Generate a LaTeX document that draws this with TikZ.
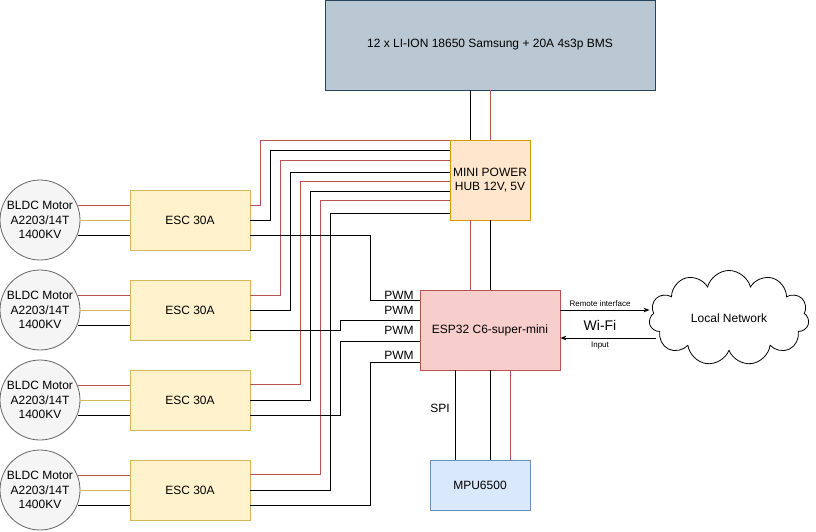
\documentclass[tikz,border=0pt]{standalone}
\usepackage{fontspec}
\setmainfont{Liberation Sans}
\usepackage{tikz}
\usetikzlibrary{positioning}
\usetikzlibrary{calc,shapes.symbols,arrows.meta}

\definecolor{battfill}{HTML}{BAC8D3}
\definecolor{battline}{HTML}{23445D}
\definecolor{hubfill}{HTML}{FFE6CC}
\definecolor{hubline}{HTML}{D79B00}
\definecolor{espfill}{HTML}{F8CECC}
\definecolor{espline}{HTML}{B85450}
\definecolor{mpufill}{HTML}{DAE8FC}
\definecolor{mpuline}{HTML}{6C8EBF}
\definecolor{escfill}{HTML}{FFF2CC}
\definecolor{escline}{HTML}{D6B656}
\definecolor{motfill}{HTML}{F5F5F5}
\definecolor{motline}{HTML}{666666}

\tikzset{
	box/.style={draw, rectangle, inner sep=2pt, align=center, font=\fontsize{12}{14}\selectfont},
	esc/.style={box, fill=escfill, draw=escline, minimum width=120pt, minimum height=60pt},
	motor/.style={draw=motline, fill=motfill, circle, minimum size=80pt, inner sep=0pt, align=center, font=\fontsize{12}{14.5}\selectfont},
	plus wire/.style={draw=espline},
	gnd wire/.style={draw=black},
	sig wire/.style={draw=escline},
	lab/.style={font=\fontsize{12}{14}\selectfont, inner sep=1pt},
	tiny/.style={font=\fontsize{8}{9}\selectfont, inner sep=1pt},
}

\begin{document}
\begin{tikzpicture}[x=1pt, y=-1pt, line width=0.8pt]
	\useasboundingbox (0,0) rectangle (816,531);
	
	% main blocks
	\node[box, fill=battfill, draw=battline, minimum width=330pt, minimum height=90pt] (batt) at (490,45) {12 x LI-ION 18650 Samsung + 20A 4s3p BMS};
	\node[box, fill=hubfill, draw=hubline, minimum width=80pt, minimum height=80pt] (hub) at (490,180) {MINI POWER\\HUB 12V, 5V};
	\node[box, fill=espfill, draw=espline, minimum width=140pt, minimum height=80pt] (esp) at (490,330) {ESP32 C6-super-mini};
	\node[box, fill=mpufill, draw=mpuline, minimum width=100pt, minimum height=50pt] (mpu) at (480,485) {MPU6500};
	\node[cloud, cloud puffs=11, aspect=1.9, draw=black, fill=white, minimum width=160pt, minimum height=95pt, font=\fontsize{12}{14}\selectfont] (net) at (729,318) {Local Network};
	
	% escs and motors
	\foreach \i/\y in {1/220, 2/310, 3/400, 4/490}{
		\node[esc] (esc\i) at (190,\y) {ESC 30A};
		\node[motor] (mot\i) at (40,\y) {BLDC Motor\\A2203/14T\\1400KV};
		\draw[plus wire] (mot\i.east |- 0,\y-15) ++(-2,0) -- (esc\i.west |- 0,\y-15);
		\draw[sig wire] (mot\i.east |- 0,\y) -- (esc\i.west |- 0,\y);
		\draw[gnd wire] (mot\i.east |- 0,\y+15) ++(-2,0) -- (esc\i.west |- 0,\y+15);
	}
	
	% battery to hub, hub to esp
	\draw[gnd wire] (batt.south -| 470,0) -- (hub.north -| 470,0);
	\draw[plus wire] (batt.south -| 490,0) -- (hub.north -| 490,0);
	\draw[plus wire] (hub.south -| 470,0) -- (esp.north -| 470,0);
	\draw[gnd wire] (hub.south -| 490,0) -- (esp.north -| 490,0);
	
	% hub to escs
	\draw[plus wire] (hub.west |- 0,140) -| (260,205) -- (esc1.east |- 0,205);
	\draw[gnd wire] (hub.west |- 0,150) -| (270,220) -- (esc1.east |- 0,220);
	\draw[plus wire] (hub.west |- 0,160) -| (280,295) -- (esc2.east |- 0,295);
	\draw[gnd wire] (hub.west |- 0,172) -| (290,310) -- (esc2.east |- 0,310);
	\draw[plus wire] (hub.west |- 0,181) -| (300,384) -- (esc3.east |- 0,384);
	\draw[gnd wire] (hub.west |- 0,191) -| (310,400) -- (esc3.east |- 0,400);
	\draw[plus wire] (hub.west |- 0,200) -| (320,474) -- (esc4.east |- 0,474);
	\draw[gnd wire] (hub.west |- 0,213) -| (330,490) -- (esc4.east |- 0,490);
	
	% pwm lines
	\draw[gnd wire] (esc1.east |- 0,235) -| (370,300) -- (esp.west |- 0,300);
	\draw[gnd wire] (esc2.east |- 0,330) -| (340,320) -- (esp.west |- 0,320);
	\draw[gnd wire] (esc3.east |- 0,415) -| (340,341) -- (esp.west |- 0,341);
	\draw[gnd wire] (esc4.east |- 0,505) -| (370,362) -- (esp.west |- 0,362);
	\foreach \y [count=\k] in {295, 310, 330, 355}
		\node[lab, anchor=east] (pwm\k) at (415,\y) {PWM};
	
	% esp to mpu
	\draw[gnd wire] (esp.south -| 455,0) -- (mpu.north -| 455,0);
	\draw[gnd wire] (esp.south -| 490,0) -- (mpu.north -| 490,0);
	\draw[plus wire] (esp.south -| 510,0) -- (mpu.north -| 510,0);
	\node[lab] (spi) at (440,408) {SPI};
	
	% wifi link
	\draw[-{Stealth[length=6pt]}] (esp.east |- 0,310) -- (net.west |- 0,310);
	\draw[-{Stealth[length=6pt]}] (net.west |- 0,338) ++(6,0) -- (esp.east |- 0,338);
	\node[tiny] (remote) at (600,304) {Remote interface};
	\node[lab, font=\fontsize{14}{16}\selectfont] (wifi) at (600,325) {Wi-Fi};
	\node[tiny] (input) at (600,346) {Input};
\end{tikzpicture}
\end{document}
